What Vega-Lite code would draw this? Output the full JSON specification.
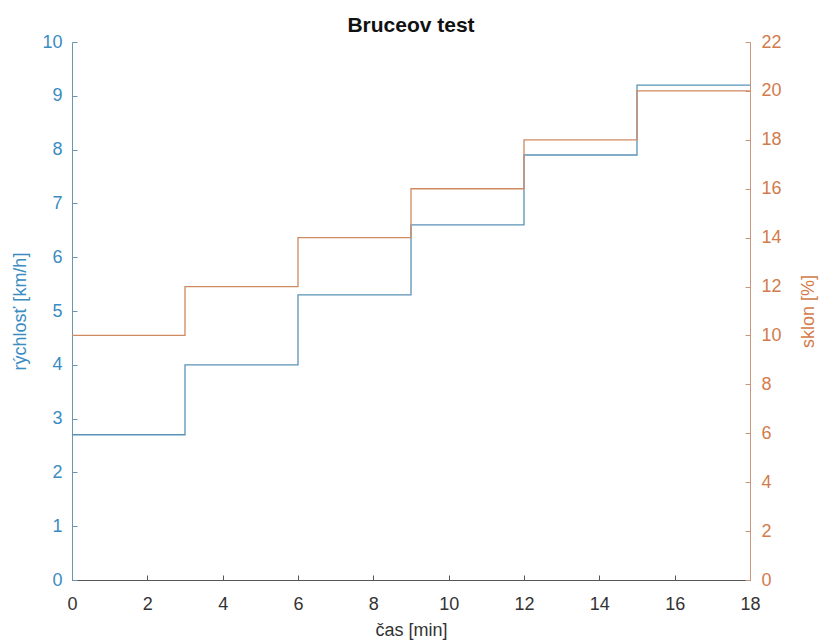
{
  "$schema": "https://vega.github.io/schema/vega-lite/v6.json",
  "autosize": {"type": "none"},
  "width": 678,
  "height": 538,
  "padding": {"left": 72, "top": 42, "right": 69, "bottom": 62},
  "background": "white",
  "title": {"text": "Bruceov test", "font": "Liberation Sans", "fontSize": 21, "fontWeight": "bold", "color": "#111111", "offset": -3},
  "config": {
    "view": {"stroke": null},
    "axis": {"labelFont": "Liberation Sans", "titleFont": "Liberation Sans", "labelFontSize": 18, "titleFontSize": 18, "titleFontWeight": "normal", "grid": false, "labelFlush": false, "labelOverlap": false}
  },
  "data": {"values": [
    {"t": 0, "speed": 2.7, "grade": 10},
    {"t": 3, "speed": 4.0, "grade": 12},
    {"t": 6, "speed": 5.3, "grade": 14},
    {"t": 9, "speed": 6.6, "grade": 16},
    {"t": 12, "speed": 7.9, "grade": 18},
    {"t": 15, "speed": 9.2, "grade": 20},
    {"t": 18, "speed": 9.2, "grade": 20}
  ]},
  "encoding": {
    "x": {"field": "t", "type": "quantitative", "scale": {"domain": [0, 18], "nice": false, "zero": false},
      "axis": {"title": "čas [min]", "values": [0,2,4,6,8,10,12,14,16,18], "tickSize": -5, "labelColor": "#333333", "titleColor": "#333333", "domainColor": "#555555", "tickColor": "#555555", "labelPadding": 20, "titleY": 50, "titleBaseline": "middle"}}
  },
  "layer": [
    {
      "mark": {"type": "line", "interpolate": "step-after", "color": "#5a93b8", "strokeWidth": 1.3},
      "encoding": {
        "y": {"field": "speed", "type": "quantitative", "scale": {"domain": [0, 10], "nice": false},
          "axis": {"orient": "left", "title": "rýchlosť [km/h]", "values": [0,1,2,3,4,5,6,7,8,9,10], "tickSize": -5, "labelColor": "#3a8cc1", "titleColor": "#3a8cc1", "domainColor": "#6c95b0", "tickColor": "#6c95b0", "labelPadding": 15, "titleX": -52, "titleBaseline": "middle"}}
      }
    },
    {
      "mark": {"type": "line", "interpolate": "step-after", "color": "#cf8a62", "strokeWidth": 1.3},
      "encoding": {
        "y": {"field": "grade", "type": "quantitative", "scale": {"domain": [0, 22], "nice": false},
          "axis": {"orient": "right", "title": "sklon [%]", "titleAngle": 270, "values": [0,2,4,6,8,10,12,14,16,18,20,22], "tickSize": -5, "labelColor": "#d37b4c", "titleColor": "#d37b4c", "domainColor": "#c9977a", "tickColor": "#c9977a", "labelPadding": 16, "titleX": 58, "titleBaseline": "middle"}}
      }
    }
  ],
  "resolve": {"scale": {"y": "independent"}}
}
